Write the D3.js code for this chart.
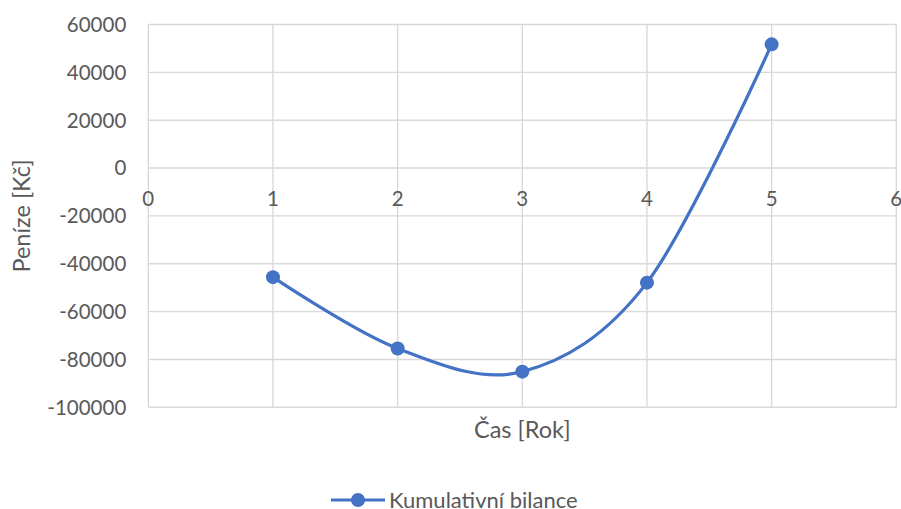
<!DOCTYPE html>
<html>
<head>
<meta charset="utf-8">
<script src="https://cdn.jsdelivr.net/npm/d3@7/dist/d3.min.js"></script>
<style>
  html, body { margin: 0; padding: 0; background: #ffffff; }
  svg { display: block; }
  text { font-family: Lato, "Open Sans", sans-serif; fill: #595959; }
</style>
</head>
<body>
<svg id="chart" width="901" height="509"></svg>
<script>
// Cumulative balance per year
const years = [1, 2, 3, 4, 5];
const balance = [-45600, -75400, -85100, -47900, 51700];
const xTicks = [0, 1, 2, 3, 4, 5, 6];
const yTicks = [60000, 40000, 20000, 0, -20000, -40000, -60000, -80000, -100000];
const seriesName = "Kumulativní bilance";
const xTitle = "Čas [Rok]";
const yTitle = "Peníze [Kč]";

const plot = { left: 148.3, right: 896.3, top: 24.5, bottom: 407.3 };
const blue = "#4472C4";
const grid = "#d9d9d9";

const svg = d3.select("#chart");

const x = d3.scaleLinear().domain([0, 6]).range([plot.left, plot.right]);
const y = d3.scaleLinear().domain([-100000, 60000]).range([plot.bottom, plot.top]);

// Gridlines
const g = svg.append("g");
g.selectAll("line.h").data(yTicks).join("line")
  .attr("x1", plot.left).attr("x2", plot.right)
  .attr("y1", d => y(d)).attr("y2", d => y(d))
  .attr("stroke", grid).attr("stroke-width", 1.4);
g.selectAll("line.v").data(xTicks).join("line")
  .attr("y1", plot.top).attr("y2", plot.bottom)
  .attr("x1", d => x(d)).attr("x2", d => x(d))
  .attr("stroke", grid).attr("stroke-width", 1.4);

// Y tick labels (plain hyphen for negatives)
svg.append("g").selectAll("text").data(yTicks).join("text")
  .attr("x", plot.left - 22)
  .attr("y", d => y(d))
  .attr("dy", "0.36em")
  .attr("text-anchor", "end")
  .attr("font-size", 20.5)
  .text(d => String(d));

// X tick labels, placed along the zero line
svg.append("g").selectAll("text").data(xTicks).join("text")
  .attr("x", d => x(d))
  .attr("y", y(0) + 31)
  .attr("dy", "0.36em")
  .attr("text-anchor", "middle")
  .attr("font-size", 20.5)
  .text(d => d);

// Axis titles
svg.append("text")
  .attr("x", (plot.left + plot.right) / 2)
  .attr("y", 430)
  .attr("dy", "0.36em")
  .attr("text-anchor", "middle")
  .attr("font-size", 23.5)
  .text(xTitle);

svg.append("text")
  .attr("transform", `translate(22, ${(plot.top + plot.bottom) / 2}) rotate(-90)`)
  .attr("dy", "0.36em")
  .attr("text-anchor", "middle")
  .attr("font-size", 23.5)
  .text(yTitle);

// Smoothed series line
const pts = years.map((yr, i) => [yr, balance[i]]);
const line = d3.line()
  .x(d => x(d[0]))
  .y(d => y(d[1]))
  .curve(d3.curveCardinal.tension(0));

svg.append("path")
  .datum(pts)
  .attr("d", line)
  .attr("fill", "none")
  .attr("stroke", blue)
  .attr("stroke-width", 3.2)
  .attr("stroke-linecap", "round");

svg.append("g").selectAll("circle").data(pts).join("circle")
  .attr("cx", d => x(d[0]))
  .attr("cy", d => y(d[1]))
  .attr("r", 7)
  .attr("fill", blue);

// Legend
const lg = svg.append("g").attr("transform", "translate(0, 500)");
lg.append("line")
  .attr("x1", 331).attr("x2", 385).attr("y1", 0).attr("y2", 0)
  .attr("stroke", blue).attr("stroke-width", 3.2);
lg.append("circle").attr("cx", 358).attr("cy", 0).attr("r", 7).attr("fill", blue);
lg.append("text")
  .attr("x", 389).attr("y", 0).attr("dy", "0.36em")
  .attr("font-size", 22)
  .text(seriesName);
</script>
</body>
</html>
